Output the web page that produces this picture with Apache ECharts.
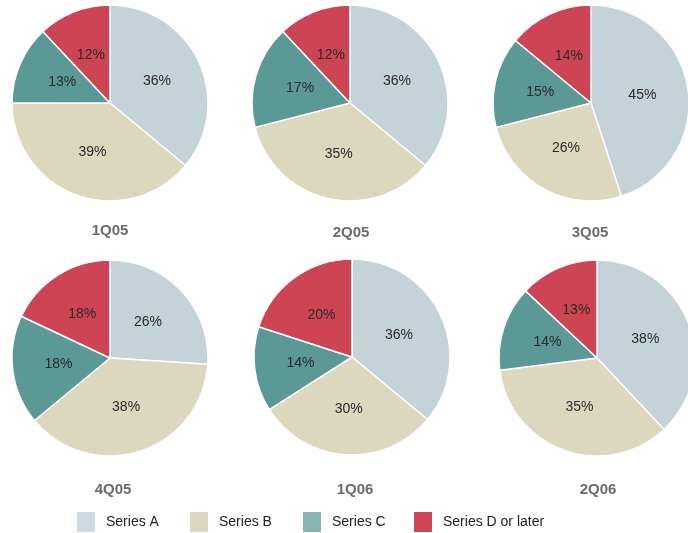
<!DOCTYPE html>
<html>
<head>
<meta charset="utf-8">
<script src="https://cdn.jsdelivr.net/npm/echarts@6/dist/echarts.min.js"></script>
<style>html,body{margin:0;padding:0;background:#fff}#c{width:688px;height:533px}</style>
</head>
<body>
<div id="c"></div>
<script>
const seriesNames = ['Series A', 'Series B', 'Series C', 'Series D or later'];
const periods = ['1Q05', '2Q05', '3Q05', '4Q05', '1Q06', '2Q06'];
const seriesA = [36, 36, 45, 26, 36, 38];
const seriesB = [39, 35, 26, 38, 30, 35];
const seriesC = [13, 17, 15, 18, 14, 14];
const seriesD = [12, 12, 14, 18, 20, 13];

const sliceColors = ['#c3d3d8', '#dbd8be', '#5a9995', '#cd4454'];
const legendColors = ['#cddbe0', '#dcd8be', '#88b4b0', '#cf4656'];
const centers = [[110, 103], [350, 103], [591, 103], [110, 358], [352, 357], [597, 358]];
const titlePos = [[110, 231], [351, 233], [590, 233], [113, 490], [355, 490], [598, 490]];
const legendLeft = [77, 190, 303, 414];

const chart = echarts.init(document.getElementById('c'));
const valuesBySeries = [seriesA, seriesB, seriesC, seriesD];

const series = periods.map((p, i) => ({
  type: 'pie',
  name: p,
  center: centers[i],
  radius: 98,
  startAngle: 90,
  clockwise: true,
  silent: true,
  animation: false,
  label: {
    show: true,
    position: 'inner',
    formatter: '{c}%',
    color: '#2a2a2a',
    fontSize: 14,
    fontFamily: 'Liberation Sans, Arial, sans-serif'
  },
  labelLine: { show: false },
  itemStyle: { borderColor: '#ffffff', borderWidth: 1.5 },
  data: seriesNames.map((n, k) => ({
    name: n,
    value: valuesBySeries[k][i],
    itemStyle: { color: sliceColors[k] }
  }))
}));

const legends = seriesNames.map((n, k) => ({
  left: legendLeft[k],
  top: 512,
  padding: 0,
  orient: 'horizontal',
  itemWidth: 18,
  itemHeight: 20,
  selectedMode: false,
  icon: 'rect',
  data: [{ name: n, itemStyle: { color: legendColors[k], borderWidth: 0, borderColor: 'transparent' } }],
  textStyle: {
    color: '#222',
    fontSize: 14,
    fontFamily: 'Liberation Sans, Arial, sans-serif',
    padding: [0, 0, 0, 6]
  }
}));

const graphics = periods.map((p, i) => ({
  type: 'text',
  x: titlePos[i][0],
  y: titlePos[i][1],
  style: {
    text: p,
    fill: '#6b6b6b',
    font: 'bold 15px "Liberation Sans", Arial, sans-serif',
    textAlign: 'center',
    textVerticalAlign: 'middle'
  }
}));

chart.setOption({
  animation: false,
  legend: legends,
  series: series,
  graphic: graphics
});
</script>
</body>
</html>
